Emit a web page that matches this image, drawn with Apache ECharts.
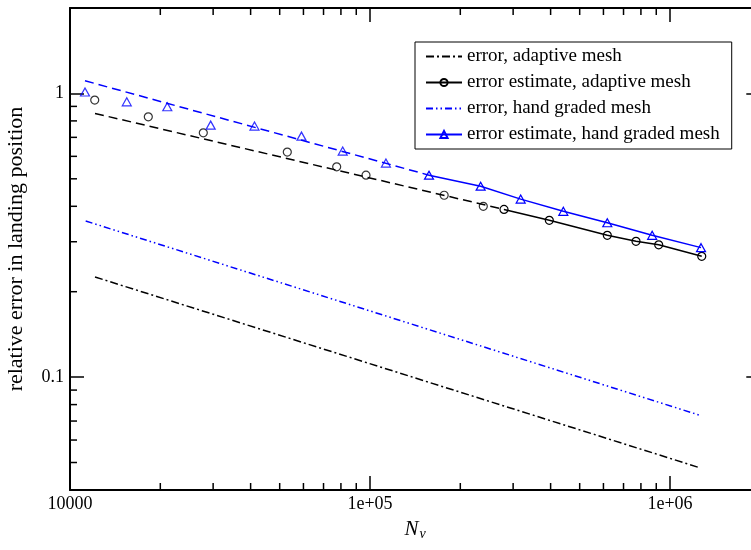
<!DOCTYPE html>
<html>
<head>
<meta charset="utf-8">
<script src="https://cdn.jsdelivr.net/npm/echarts@6/dist/echarts.min.js"></script>
<style>
  html, body { margin: 0; padding: 0; background: #fff; }
  #chart { width: 751px; height: 550px; }
</style>
</head>
<body>
<div id="chart"></div>
<script>
const FONT = "'Liberation Serif', 'DejaVu Serif', serif";

// axis ranges and tick labels
const xRange = [10000, 2000000];
const yRange = [0.04, 2];
const xTickValues = [1e4, 1e5, 1e6];
const xTickLabels = ["10000", "1e+05", "1e+06"];
const yTickValues = [0.1, 1];
const yTickLabels = ["0.1", "1"];
const xMinorTicks = [2e4, 3e4, 4e4, 5e4, 6e4, 7e4, 8e4, 9e4, 2e5, 3e5, 4e5, 5e5, 6e5, 7e5, 8e5, 9e5];
const yMinorTicks = [0.05, 0.06, 0.07, 0.08, 0.09, 0.2, 0.3, 0.4, 0.5, 0.6, 0.7, 0.8, 0.9];

// error, adaptive mesh
const errAdaptN = [12115, 1242800];
const errAdaptVal = [0.2254, 0.0481];
// error estimate, adaptive mesh (solid line from index 8)
const estAdaptN = [12090, 18240, 27820, 53010, 77440, 96980, 176700, 238600, 279700, 396000, 618000, 770400, 917000, 1276000];
const estAdaptVal = [0.947, 0.827, 0.726, 0.621, 0.551, 0.515, 0.4376, 0.400, 0.390, 0.357, 0.316, 0.301, 0.2927, 0.2666];
const estAdaptSolidFrom = 8;
// fitted line through the adaptive estimate (dashed part)
const fitAdaptN = [12115, 279700];
const fitAdaptVal = [0.850, 0.390];

// error, hand graded mesh
const errHandN = [11280, 1266000];
const errHandVal = [0.355, 0.0732];
// error estimate, hand graded mesh (solid line from index 8)
const estHandN = [11220, 15460, 21100, 29440, 41210, 59100, 81100, 113000, 157300, 233800, 317900, 441000, 618000, 872000, 1269000];
const estHandVal = [1.011, 0.934, 0.897, 0.773, 0.767, 0.707, 0.626, 0.568, 0.515, 0.471, 0.424, 0.384, 0.350, 0.316, 0.286];
const estHandSolidFrom = 8;
// fitted line through the hand graded estimate (dashed part)
const fitHandN = [11220, 157300];
const fitHandVal = [1.108, 0.515];

const pairs = (xs, ys) => xs.map((x, i) => [x, ys[i]]);

function tickFormatter(values, labels) {
  return function (v) {
    const i = values.findIndex(t => Math.abs(Math.log10(v / t)) < 1e-6);
    return i < 0 ? "" : labels[i];
  };
}

const tickLine = (x1, y1, x2, y2) => ({
  type: "line",
  shape: { x1, y1, x2, y2 },
  style: { stroke: "#000", lineWidth: 1.5 }
});

const chart = echarts.init(document.getElementById("chart"));

const baseX = {
  type: "log",
  logBase: 10,
  min: xRange[0],
  max: xRange[1],
  splitLine: { show: false },
  axisLine: { lineStyle: { color: "#000", width: 2 } },
  axisTick: { inside: true, length: 14, lineStyle: { color: "#000", width: 1.5 } },
  minorTick: { show: false }
};
const baseY = {
  type: "log",
  logBase: 10,
  min: yRange[0],
  max: yRange[1],
  splitLine: { show: false },
  axisLine: { lineStyle: { color: "#000", width: 2 } },
  axisTick: { inside: true, length: 14, lineStyle: { color: "#000", width: 1.5 } },
  minorTick: { show: false }
};

const option = {
  animation: false,
  backgroundColor: "#fff",
  grid: { left: 70, top: 8, width: 690.3, height: 482, outerBoundsMode: "none" },
  legend: {
    orient: "vertical",
    left: 415,
    top: 42,
    padding: [5, 12, 5, 10],
    itemWidth: 36,
    itemHeight: 9,
    itemGap: 7,
    borderColor: "#000",
    borderWidth: 1,
    backgroundColor: "#fff",
    textStyle: { fontFamily: FONT, fontSize: 19, color: "#000" },
    data: [
      { name: "error, adaptive mesh", itemStyle: { opacity: 0 } },
      { name: "error estimate, adaptive mesh" },
      { name: "error, hand graded mesh", itemStyle: { opacity: 0 } },
      { name: "error estimate, hand graded mesh" }
    ]
  },
  xAxis: [
    Object.assign({}, baseX, {
      position: "bottom",
      name: "{n|N}{v|v}",
      nameLocation: "middle",
      nameGap: 27,
      nameTextStyle: {
        color: "#000",
        rich: {
          n: { fontFamily: FONT, fontStyle: "italic", fontSize: 21, color: "#000" },
          v: { fontFamily: FONT, fontStyle: "italic", fontSize: 14, color: "#000", padding: [10, 0, 0, 1] }
        }
      },
      axisLabel: {
        color: "#000",
        fontFamily: FONT,
        fontSize: 18,
        margin: 5,
        showMinLabel: true,
        showMaxLabel: false,
        formatter: tickFormatter(xTickValues, xTickLabels)
      }
    }),
    Object.assign({}, baseX, { position: "top", axisLabel: { show: false } })
  ],
  yAxis: [
    Object.assign({}, baseY, {
      position: "left",
      name: "relative error in landing position",
      nameLocation: "middle",
      nameGap: 43,
      nameTextStyle: { fontFamily: FONT, fontSize: 22, color: "#000" },
      axisLabel: {
        color: "#000",
        fontFamily: FONT,
        fontSize: 18,
        margin: 6,
        showMinLabel: false,
        showMaxLabel: false,
        formatter: tickFormatter(yTickValues, yTickLabels)
      }
    }),
    Object.assign({}, baseY, { position: "right", axisLabel: { show: false } })
  ],
  series: [
    {
      name: "error, adaptive mesh",
      type: "line",
      data: pairs(errAdaptN, errAdaptVal),
      symbol: "none",
      lineStyle: { color: "#000", width: 1.5, type: [8, 3, 2, 3] },
      itemStyle: { color: "#000" },
      z: 3
    },
    {
      name: "error estimate, adaptive mesh",
      type: "line",
      data: pairs(estAdaptN, estAdaptVal).slice(estAdaptSolidFrom),
      symbol: "circle",
      symbolSize: 8,
      lineStyle: { color: "#000", width: 1.5 },
      itemStyle: { color: "rgba(0,0,0,0)", borderColor: "#000", borderWidth: 1.2 },
      z: 4
    },
    {
      name: "error estimate, adaptive mesh",
      type: "scatter",
      data: pairs(estAdaptN, estAdaptVal).slice(0, estAdaptSolidFrom),
      symbol: "circle",
      symbolSize: 8,
      itemStyle: { color: "rgba(0,0,0,0)", borderColor: "#000", borderWidth: 1.2 },
      z: 4
    },
    {
      name: "fit, adaptive mesh",
      type: "line",
      data: pairs(fitAdaptN, fitAdaptVal),
      symbol: "none",
      lineStyle: { color: "#000", width: 1.5, type: [9, 5] },
      z: 3
    },
    {
      name: "error, hand graded mesh",
      type: "line",
      data: pairs(errHandN, errHandVal),
      symbol: "none",
      lineStyle: { color: "#0000ff", width: 1.5, type: [7, 3, 1.5, 3, 1.5, 3] },
      itemStyle: { color: "#0000ff" },
      z: 3
    },
    {
      name: "error estimate, hand graded mesh",
      type: "line",
      data: pairs(estHandN, estHandVal).slice(estHandSolidFrom),
      symbol: "triangle",
      symbolSize: [9, 8],
      lineStyle: { color: "#0000ff", width: 1.5 },
      itemStyle: { color: "rgba(0,0,0,0)", borderColor: "#0000ff", borderWidth: 1.2 },
      z: 4
    },
    {
      name: "error estimate, hand graded mesh",
      type: "scatter",
      data: pairs(estHandN, estHandVal).slice(0, estHandSolidFrom),
      symbol: "triangle",
      symbolSize: [9, 8],
      itemStyle: { color: "rgba(0,0,0,0)", borderColor: "#0000ff", borderWidth: 1.2 },
      z: 4
    },
    {
      name: "fit, hand graded mesh",
      type: "line",
      data: pairs(fitHandN, fitHandVal),
      symbol: "none",
      lineStyle: { color: "#0000ff", width: 1.5, type: [9, 5] },
      z: 3
    },
    {
      // minor ticks on bottom and top
      type: "custom",
      silent: true,
      clip: false,
      data: xMinorTicks.map(v => [v, yRange[0]]),
      renderItem: function (params, api) {
        const v = api.value(0);
        const b = api.coord([v, yRange[0]]);
        const t = api.coord([v, yRange[1]]);
        return {
          type: "group",
          children: [tickLine(b[0], b[1], b[0], b[1] - 7), tickLine(t[0], t[1], t[0], t[1] + 7)]
        };
      },
      z: 5
    },
    {
      // minor ticks on left and right
      type: "custom",
      silent: true,
      clip: false,
      data: yMinorTicks.map(v => [xRange[0], v]),
      renderItem: function (params, api) {
        const v = api.value(1);
        const l = api.coord([xRange[0], v]);
        const r = api.coord([xRange[1], v]);
        return {
          type: "group",
          children: [tickLine(l[0], l[1], l[0] + 7, l[1]), tickLine(r[0], r[1], r[0] - 7, r[1])]
        };
      },
      z: 5
    }
  ]
};

chart.setOption(option);
</script>
</body>
</html>
